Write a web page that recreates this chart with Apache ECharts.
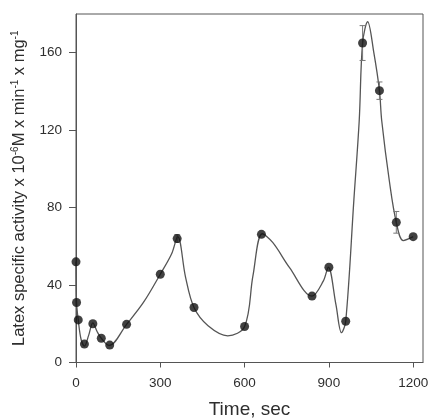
<!DOCTYPE html>
<html>
<head>
<meta charset="utf-8">
<title>Latex specific activity</title>
<script src="https://cdn.jsdelivr.net/npm/echarts@6/dist/echarts.min.js"></script>
<style>
  html, body { margin: 0; padding: 0; background: #fff; }
  #chart { width: 428px; height: 420px; }
</style>
</head>
<body>
<div id="chart"></div>
<script>
// measured points (time, sec / activity)
const timePoints = [0, 2, 8, 30, 60, 90, 120, 180, 300, 360, 420, 600, 660, 840, 900, 960, 1020, 1080, 1140, 1200]
const activity = [52, 31, 22, 9.5, 20, 12.5, 9, 19.7, 45.6, 64, 28.4, 18.6, 66.2, 34.3, 49.2, 21.3, 165, 140.4, 72.4, 65]
// error bar half-widths (only the visible ones)
const errTimes = [360, 1020, 1080, 1140]
const errValues = [2, 9, 4.5, 5.6]
const errCenters = [64, 165, 140.4, 72.4]

// fitted curve
const curveX = [0, 2, 8, 18, 30, 45, 60, 75, 90, 118, 180, 240, 300, 340, 362, 390, 420, 470, 540, 600, 630, 663, 700, 760, 840, 880, 898, 925, 945, 960, 989, 1008, 1020, 1038, 1060, 1080, 1088, 1115, 1140, 1165, 1200]
const curveY = [52, 31, 22, 12, 8.5, 14, 20.5, 16, 12.5, 8.8, 19.7, 31, 45.6, 56, 65, 44, 28.4, 19, 13.8, 18.6, 45, 66.5, 62, 49, 34.3, 42, 49.2, 30, 15.4, 21.3, 84, 125, 165, 176, 160, 140.4, 125, 94, 72.4, 63, 65]

const xTicks = [0, 300, 600, 900, 1200]
const yTicks = [0, 40, 80, 120, 160]

const chart = echarts.init(document.getElementById('chart'))

const axisCol = '#555'
const textCol = '#2e2e2e'
const fontFam = 'Liberation Sans, Arial, sans-serif'

const option = {
  animation: false,
  backgroundColor: '#fff',
  grid: {
    left: 76,
    right: 5,
    top: 14,
    bottom: 57.5,
    outerBoundsMode: 'none',
    show: true,
    borderColor: axisCol,
    borderWidth: 1
  },
  xAxis: {
    type: 'value',
    min: 0,
    max: 1235,
    interval: 300,
    name: 'Time, sec',
    nameLocation: 'middle',
    nameGap: 38,
    nameTextStyle: { color: textCol, fontSize: 19, fontFamily: fontFam },
    axisLine: { show: true, lineStyle: { color: axisCol, width: 1 } },
    axisTick: { show: true, length: 5, lineStyle: { color: axisCol } },
    splitLine: { show: false },
    axisLabel: {
      color: textCol,
      fontSize: 13.5,
      fontFamily: fontFam,
      margin: 14,
      showMaxLabel: false,
      formatter: (v) => (xTicks.indexOf(v) >= 0 ? String(v) : '')
    }
  },
  yAxis: {
    type: 'value',
    min: 0,
    max: 180,
    interval: 40,
    name: '{n|Latex specific activity x 10}{s|-6}{n|M x min}{s|-1}{n| x mg}{s|-1}',
    nameLocation: 'middle',
    nameGap: 48,
    nameRotate: 90,
    nameTextStyle: {
      color: textCol,
      fontFamily: fontFam,
      rich: {
        n: { fontSize: 16.5, color: textCol, fontFamily: fontFam },
        s: { fontSize: 10, color: textCol, fontFamily: fontFam, verticalAlign: 'top', padding: [0, 0, 8, 0] }
      }
    },
    axisLine: { show: true, lineStyle: { color: axisCol, width: 1 } },
    axisTick: { show: true, length: 7, lineStyle: { color: axisCol } },
    splitLine: { show: false },
    axisLabel: {
      color: textCol,
      fontSize: 13.5,
      fontFamily: fontFam,
      margin: 14,
      showMaxLabel: false,
      formatter: (v) => (yTicks.indexOf(v) >= 0 ? String(v) : '')
    }
  },
  series: [
    {
      name: 'curve',
      type: 'line',
      data: curveX.map((x, i) => [x, curveY[i]]),
      smooth: 0.35,
      showSymbol: false,
      symbol: 'none',
      lineStyle: { color: '#555', width: 1.3 },
      z: 2
    },
    {
      name: 'errors',
      type: 'custom',
      data: errTimes.map((t, i) => [t, errCenters[i], errValues[i]]),
      renderItem: (params, api) => {
        const x = api.value(0)
        const c = api.value(1)
        const e = api.value(2)
        const top = api.coord([x, c + e])
        const bot = api.coord([x, c - e])
        const w = 3
        const st = { stroke: '#777', lineWidth: 1 }
        return {
          type: 'group',
          children: [
            { type: 'line', shape: { x1: top[0], y1: top[1], x2: bot[0], y2: bot[1] }, style: st },
            { type: 'line', shape: { x1: top[0] - w, y1: top[1], x2: top[0] + w, y2: top[1] }, style: st },
            { type: 'line', shape: { x1: bot[0] - w, y1: bot[1], x2: bot[0] + w, y2: bot[1] }, style: st }
          ]
        }
      },
      z: 3
    },
    {
      name: 'points',
      type: 'scatter',
      data: timePoints.map((t, i) => [t, activity[i]]),
      symbol: 'circle',
      symbolSize: 9,
      itemStyle: { color: '#111' },
      z: 4
    }
  ]
}

chart.setOption(option)
</script>
</body>
</html>
